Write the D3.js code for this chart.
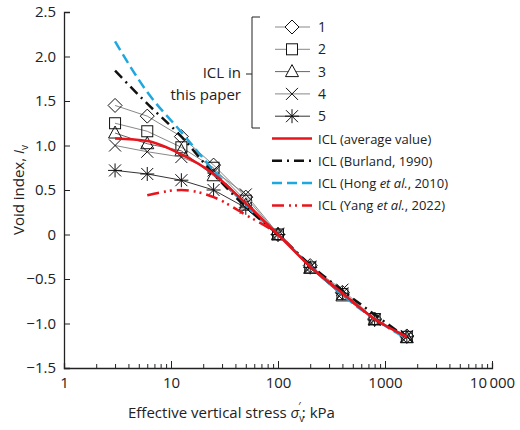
<!DOCTYPE html>
<html><head><meta charset="utf-8">
<script src="https://cdn.jsdelivr.net/npm/d3@7"></script>
<style>body{margin:0;background:#fff}text{font-family:"Open Sans","Noto Sans",sans-serif;fill:#222}</style>
</head><body><div id="chart"></div>
<script>
// stress levels (kPa)
const stress = [3, 6, 12.5, 25, 50, 100, 200, 400, 800, 1600];
const s1 = [1.45, 1.33, 1.1, 0.78, 0.42, 0, -0.35, -0.65, -0.95, -1.14];
const s2 = [1.25, 1.16, 0.98, 0.75, 0.38, 0, -0.37, -0.67, -0.95, -1.15];
const s3 = [1.14, 1.02, 0.94, 0.66, 0.33, 0, -0.38, -0.69, -0.96, -1.16];
const s4 = [1.0, 0.93, 0.87, 0.72, 0.45, 0.01, -0.36, -0.62, -0.95, -1.14];
const s5 = [0.72, 0.68, 0.61, 0.5, 0.3, 0, -0.37, -0.66, -0.96, -1.15];
const icl = [1.08, 1.05, 0.9, 0.68, 0.35, 0, -0.36, -0.66, -0.95, -1.15];
const burland = [1.84, 1.47, 1.1, 0.68, 0.31, 0, -0.34, -0.63, -0.9, -1.16];
const hong = [2.17, 1.6, 1.15, 0.72, 0.33, 0, -0.35, -0.68, -0.95, -1.17];
const yangX = [6, 12.5, 25, 50, 100, 200, 400, 800, 1600];
const yang = [0.44, 0.5, 0.42, 0.22, 0, -0.36, -0.66, -0.95, -1.15];
const seriesLabels = ["1", "2", "3", "4", "5"];
// [before italic, italic, after]
const lineLabels = [["ICL (average value)", "", ""], ["ICL (Burland, 1990)", "", ""],
  ["ICL (Hong ", "et al.", ", 2010)"], ["ICL (Yang ", "et al.", ", 2022)"]];
const yTicks = [-1.5, -1.0, -0.5, 0, 0.5, 1.0, 1.5, 2.0, 2.5];

const W = 520, H = 430;
const svg = d3.select("#chart").append("svg").attr("width", W).attr("height", H);
const x = d3.scaleLog().domain([1, 10000]).range([64, 492]);
const y = d3.scaleLinear().domain([-1.5, 2.5]).range([368, 12]);

// axes
const xa = svg.append("g").attr("transform", "translate(0,368)")
  .call(d3.axisBottom(x).tickValues(d3.range(0, 4).flatMap(e => d3.range(1, 10).map(k => k * 10 ** e)).concat([10000]))
    .tickSize(-5).tickFormat(d => [1, 10, 100, 1000].includes(d) ? d : d === 10000 ? "10\u2009000" : ""));
xa.selectAll(".tick line").attr("y2", d => [1, 10, 100, 1000, 10000].includes(d) ? -7 : -4);
const ya = svg.append("g").attr("transform", "translate(64,0)")
  .call(d3.axisLeft(y).tickValues(yTicks).tickSize(-6).tickFormat(d => d === 0 ? "0" : d3.format(".1f")(d).replace("-", "\u2212")));
svg.selectAll(".domain").attr("stroke", "#222").attr("stroke-width", 1.3);
svg.selectAll(".tick line").attr("stroke", "#222");
svg.selectAll(".tick text").style("font-size", "15px").style("fill", "#222");
xa.selectAll(".tick text").attr("dy", "1.1em");
ya.selectAll(".tick text").attr("x", -8);

const xl = svg.append("text").attr("x", 128).attr("y", 418).style("font-size", "15px");
xl.append("tspan").text("Effective vertical stress ");
xl.append("tspan").attr("font-style", "italic").text("σ");
xl.append("tspan").attr("font-size", "10").attr("dy", 4).text("v");
xl.append("tspan").attr("font-size", "11").attr("dy", -12).attr("dx", -6).text("′");
xl.append("tspan").attr("dy", 8).attr("dx", 1).text(": kPa");
const yl = svg.append("text").attr("transform", "translate(24,190) rotate(-90)").attr("text-anchor", "middle").style("font-size", "15px");
yl.append("tspan").text("Void index, ");
yl.append("tspan").attr("font-style", "italic").text("I");
yl.append("tspan").attr("font-size", "10").attr("dy", 4).text("v");

const line = d3.line().x(d => x(d[0])).y(d => y(d[1])).curve(d3.curveMonotoneX);
const lineSpecs = [
  { data: d3.zip(stress, hong), color: "#1fa8e0", dash: "10,5", w: 2.5 },
  { data: d3.zip(stress, burland), color: "#111", dash: "10,5,2,5", w: 2.5 },
  { data: d3.zip(yangX, yang), color: "#e8141c", dash: "12,5,2,4,2,5", w: 2.5 },
  { data: d3.zip(stress, icl), color: "#e8141c", dash: null, w: 2.5 }
];

// experimental series
const sets = [s1, s2, s3, s4, s5];
const greys = ["#888", "#888", "#666", "#888", "#333"];
function marker(g, i, cx, cy) {
  const sz = 7;
  if (i === 0) g.append("path").attr("d", `M${cx},${cy - sz}L${cx + sz},${cy}L${cx},${cy + sz}L${cx - sz},${cy}Z`);
  else if (i === 1) g.append("rect").attr("x", cx - 5.5).attr("y", cy - 5.5).attr("width", 11).attr("height", 11);
  else if (i === 2) g.append("path").attr("d", `M${cx},${cy - 7}L${cx + 6.5},${cy + 5}L${cx - 6.5},${cy + 5}Z`);
  else if (i === 3) g.append("path").attr("d", `M${cx - 6},${cy - 6}L${cx + 6},${cy + 6}M${cx + 6},${cy - 6}L${cx - 6},${cy + 6}`);
  else g.append("path").attr("d", `M${cx - 6},${cy - 6}L${cx + 6},${cy + 6}M${cx + 6},${cy - 6}L${cx - 6},${cy + 6}M${cx},${cy - 7}L${cx},${cy + 7}M${cx - 7},${cy}L${cx + 7},${cy}`);
}
sets.forEach((vals, i) => {
  const g = svg.append("g");
  g.append("path").datum(d3.zip(stress, vals)).attr("d", d3.line().x(d => x(d[0])).y(d => y(d[1])))
    .attr("fill", "none").attr("stroke", greys[i]).attr("stroke-width", 1);
  const mg = g.append("g").attr("fill", "none").attr("stroke", "#111").attr("stroke-width", 1);
  stress.forEach((s, j) => marker(mg, i, x(s), y(vals[j])));
});

lineSpecs.forEach(l => {
  svg.append("path").datum(l.data).attr("d", line).attr("fill", "none")
    .attr("stroke", l.color).attr("stroke-width", l.w).attr("stroke-dasharray", l.dash);
});

// legend
const lg = svg.append("g");
const rowY = i => 27 + i * 22.3;
seriesLabels.forEach((t, i) => {
  lg.append("line").attr("x1", 275).attr("x2", 310).attr("y1", rowY(i)).attr("y2", rowY(i)).attr("stroke", greys[i]);
  const mg = lg.append("g").attr("fill", "#fff").attr("stroke", "#111");
  marker(mg, i, 292, rowY(i));
  lg.append("text").attr("x", 318).attr("y", rowY(i) + 5).style("font-size", "14px").text(t);
});
const legOrder = [3, 1, 0, 2];
legOrder.forEach((k, i) => {
  const l = lineSpecs[k], yy = rowY(i + 5);
  lg.append("line").attr("x1", 272).attr("x2", 312).attr("y1", yy).attr("y2", yy)
    .attr("stroke", l.color).attr("stroke-width", 2.5).attr("stroke-dasharray", l.dash);
  const t = lg.append("text").attr("x", 318).attr("y", yy + 5).style("font-size", "13px");
  t.append("tspan").text(lineLabels[i][0]);
  if (lineLabels[i][1]) t.append("tspan").attr("font-style", "italic").text(lineLabels[i][1]);
  if (lineLabels[i][2]) t.append("tspan").text(lineLabels[i][2]);
});
// bracket
lg.append("path").attr("d", "M260,17H252V74H246M252,74V128H260").attr("fill", "none").attr("stroke", "#222");
lg.append("text").attr("x", 241).attr("y", 78).attr("text-anchor", "end").style("font-size", "15px").text("ICL in");
lg.append("text").attr("x", 241).attr("y", 100).attr("text-anchor", "end").style("font-size", "15px").text("this paper");
</script></body></html>
